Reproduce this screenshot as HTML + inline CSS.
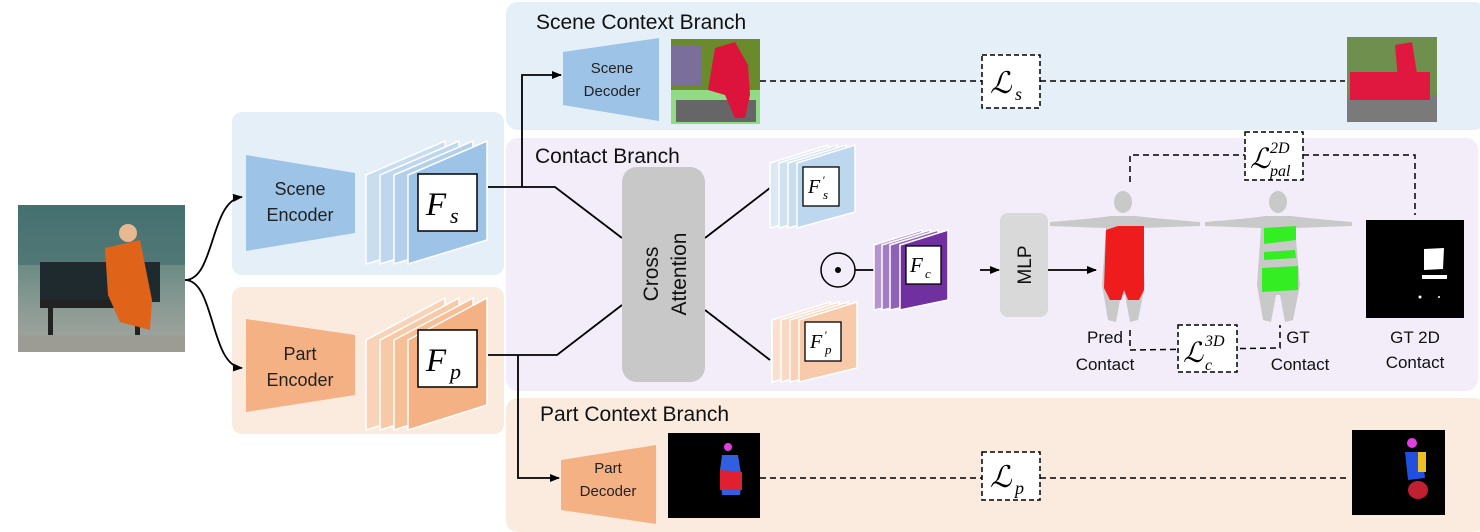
<!DOCTYPE html>
<html><head><meta charset="utf-8"><style>
body{margin:0;background:#fff;}
svg{display:block;}
text{font-family:"Liberation Sans",sans-serif;}
.m{font-family:"Liberation Serif",serif;font-style:italic;}
</style></head><body>
<svg width="1480" height="532" viewBox="0 0 1480 532" xmlns="http://www.w3.org/2000/svg">
<defs>
<marker id="ar" markerWidth="10" markerHeight="8" refX="9" refY="4" orient="auto" markerUnits="userSpaceOnUse"><path d="M0,0 L10,4 L0,8 z" fill="#000"/></marker>
<linearGradient id="ph" x1="0" y1="0" x2="0" y2="1"><stop offset="0" stop-color="#4f7a7a"/><stop offset="0.45" stop-color="#6f8e86"/><stop offset="0.7" stop-color="#8b9a94"/><stop offset="1" stop-color="#a7a7a0"/></linearGradient>
</defs>
<!-- panels -->
<rect x="506" y="2" width="980" height="128" rx="12" fill="#e4eff8"/>
<rect x="506" y="138" width="972" height="253" rx="12" fill="#f2edf9"/>
<rect x="506" y="398" width="980" height="134" rx="12" fill="#fbebdf"/>
<rect x="232" y="112" width="272" height="163" rx="10" fill="#e4eff8"/>
<rect x="232" y="287" width="272" height="147" rx="10" fill="#fbebdf"/>

<!-- photo -->
<rect x="18" y="205" width="167" height="147" fill="url(#ph)"/>
<rect x="18" y="205" width="167" height="60" fill="#3f6a6a" opacity="0.6"/>
<rect x="40" y="262" width="120" height="40" fill="#1e2a2e"/>
<rect x="40" y="300" width="100" height="8" fill="#222"/>
<rect x="48" y="305" width="5" height="40" fill="#222"/><rect x="135" y="305" width="5" height="40" fill="#222"/>
<path d="M105,248 L140,240 L152,300 L150,330 L120,322 L108,295 Z" fill="#e0631a"/>
<circle cx="128" cy="233" r="9" fill="#e8b890"/>
<rect x="18" y="335" width="167" height="17" fill="#9c9c94"/>

<!-- input arrows -->
<path d="M185,280 C215,280 210,200 242,197" fill="none" stroke="#000" stroke-width="1.8" marker-end="url(#ar)"/>
<path d="M185,280 C215,280 210,366 242,368" fill="none" stroke="#000" stroke-width="1.8" marker-end="url(#ar)"/>

<!-- scene encoder -->
<polygon points="246,155 355,173 355,233 246,251" fill="#9dc3e6"/>
<text x="300" y="195" font-size="18" text-anchor="middle" fill="#222">Scene</text>
<text x="300" y="221" font-size="18" text-anchor="middle" fill="#222">Encoder</text>
<g stroke="#fff" stroke-width="1.5">
<polygon points="366,175 445,141 445,240 366,264" fill="#c9ddf0"/>
<polygon points="380,175 459,141 459,240 380,264" fill="#bfd7ee"/>
<polygon points="394,175 473,141 473,240 394,264" fill="#b2d0eb"/>
<polygon points="408,175 487,141 487,240 408,264" fill="#9dc3e6"/>
</g>
<rect x="418" y="174" width="59" height="57" fill="#fff" stroke="#000" stroke-width="1.5"/>
<text class="m" x="426" y="215" font-size="33">F</text><text class="m" x="450" y="223" font-size="22">s</text>

<!-- part encoder -->
<polygon points="246,319 355,335 355,395 246,412" fill="#f4b183"/>
<text x="300" y="360" font-size="18" text-anchor="middle" fill="#222">Part</text>
<text x="300" y="386" font-size="18" text-anchor="middle" fill="#222">Encoder</text>
<g stroke="#fff" stroke-width="1.5">
<polygon points="366,340 445,298 445,405 366,430" fill="#f8d3b8"/>
<polygon points="380,340 459,298 459,405 380,430" fill="#f7c9a7"/>
<polygon points="394,340 473,298 473,405 394,430" fill="#f6bf97"/>
<polygon points="408,340 487,298 487,405 408,430" fill="#f4b183"/>
</g>
<rect x="418" y="330" width="59" height="57" fill="#fff" stroke="#000" stroke-width="1.5"/>
<text class="m" x="426" y="371" font-size="33">F</text><text class="m" x="450" y="379" font-size="22">p</text>

<!-- connectors -->
<g fill="none" stroke="#000" stroke-width="1.8">
<polyline points="488,187 555,187 622,238"/>
<polyline points="522,187 522,75 561,75" marker-end="url(#ar)"/>
<polyline points="488,355 557,355 622,305"/>
<polyline points="518,355 518,478 559,478" marker-end="url(#ar)"/>
<line x1="705" y1="238" x2="770" y2="188"/>
<line x1="705" y1="310" x2="770" y2="360"/>
<line x1="855" y1="270" x2="899" y2="270" marker-end="url(#ar)"/>
<line x1="980" y1="270" x2="999" y2="270" marker-end="url(#ar)"/>
<line x1="1048" y1="270" x2="1096" y2="270" marker-end="url(#ar)"/>
</g>

<!-- titles -->
<text x="536" y="29" font-size="21" fill="#111">Scene Context Branch</text>
<text x="535" y="163" font-size="21" fill="#111">Contact Branch</text>
<text x="540" y="421" font-size="21" fill="#111">Part Context Branch</text>

<!-- cross attention -->
<rect x="622" y="167" width="83" height="215" rx="15" fill="#c8c8c8"/>
<text transform="translate(658,274) rotate(-90)" font-size="21" text-anchor="middle" fill="#111">Cross</text>
<text transform="translate(686,274) rotate(-90)" font-size="21" text-anchor="middle" fill="#111">Attention</text>

<!-- F's stack -->
<g stroke="#fff" stroke-width="1.5">
<polygon points="770,163 828,145 828,212 770,228" fill="#dce9f5"/>
<polygon points="779,163 837,145 837,212 779,228" fill="#d0e2f2"/>
<polygon points="788,163 846,145 846,212 788,228" fill="#c9ddf0"/>
<polygon points="797,163 855,145 855,212 797,228" fill="#bdd7ee"/>
<polygon points="772,320 830,302 830,368 772,382" fill="#fbe0cf"/>
<polygon points="781,320 839,302 839,368 781,382" fill="#fad8c2"/>
<polygon points="790,320 848,302 848,368 790,382" fill="#f9d0b5"/>
<polygon points="799,320 857,302 857,368 799,382" fill="#f8caaa"/>
</g>
<rect x="803" y="167" width="36" height="39" fill="#fff" stroke="#000" stroke-width="1.3"/>
<text class="m" x="808" y="193" font-size="20">F</text><text class="m" x="822" y="184" font-size="12">′</text><text class="m" x="823" y="199" font-size="13">s</text>
<rect x="805" y="322" width="36" height="39" fill="#fff" stroke="#000" stroke-width="1.3"/>
<text class="m" x="810" y="348" font-size="20">F</text><text class="m" x="824" y="339" font-size="12">′</text><text class="m" x="825" y="354" font-size="13">p</text>

<!-- odot -->
<circle cx="838" cy="270" r="17" fill="none" stroke="#000" stroke-width="1.5"/>
<circle cx="838" cy="270" r="3" fill="#000"/>

<!-- Fc stack -->
<g stroke="#fff" stroke-width="1.5">
<polygon points="874,245 922,230 922,300 874,310" fill="#b595cf"/>
<polygon points="882,245 930,230 930,300 882,310" fill="#a27dc4"/>
<polygon points="890,245 938,230 938,300 890,310" fill="#8e63b6"/>
<polygon points="900,245 948,230 948,300 900,310" fill="#7030a0"/>
</g>
<rect x="906" y="246" width="35" height="38" fill="#fff" stroke="#000" stroke-width="1.3"/>
<text class="m" x="910" y="272" font-size="21">F</text><text class="m" x="925" y="278" font-size="13">c</text>

<!-- MLP -->
<rect x="1000" y="213" width="48" height="104" rx="8" fill="#d9d9d9"/>
<text transform="translate(1031,265) rotate(-90)" font-size="19" text-anchor="middle" fill="#111">MLP</text>

<!-- bodies -->
<g fill="#c9c9c9">
<ellipse cx="1123" cy="202" rx="9" ry="11"/>
<path d="M1050,222 Q1100,218 1110,216 L1136,216 Q1150,218 1200,222 L1200,226 L1140,228 L1145,285 L1138,320 L1130,322 L1125,295 L1121,295 L1116,322 L1108,320 L1102,285 L1106,228 L1050,226 Z"/>
<ellipse cx="1278" cy="202" rx="9" ry="11"/>
<path d="M1205,222 Q1255,218 1265,216 L1291,216 Q1305,218 1352,222 L1352,226 L1295,228 L1300,285 L1293,320 L1285,322 L1280,295 L1276,295 L1271,322 L1263,320 L1257,285 L1261,228 L1205,226 Z"/>
</g>
<path d="M1118,226 L1144,226 L1144,290 L1139,300 L1128,300 L1124,290 L1121,300 L1110,300 L1104,288 L1106,230 Z" fill="#ee1c1c"/>
<path d="M1264,228 L1296,226 L1296,240 L1264,244 Z" fill="#33ee22"/>
<path d="M1264,252 L1295,250 L1296,258 L1264,260 Z" fill="#33ee22"/>
<path d="M1262,268 L1298,266 L1298,290 L1262,292 Z" fill="#33ee22"/>
<rect x="1366" y="220" width="98" height="98" fill="#000"/>
<polygon points="1424,249 1444,248 1443,269 1424,270" fill="#fff"/>
<rect x="1422" y="275" width="25" height="4" fill="#fff"/>
<circle cx="1420" cy="297" r="1.5" fill="#fff"/><circle cx="1439" cy="297" r="1" fill="#fff"/>
<text x="1105" y="343" font-size="17" text-anchor="middle" fill="#111">Pred</text>
<text x="1105" y="370" font-size="17" text-anchor="middle" fill="#111">Contact</text>
<text x="1298" y="343" font-size="17" text-anchor="middle" fill="#111">GT</text>
<text x="1300" y="370" font-size="17" text-anchor="middle" fill="#111">Contact</text>
<text x="1415" y="343" font-size="17" text-anchor="middle" fill="#111">GT 2D</text>
<text x="1415" y="368" font-size="17" text-anchor="middle" fill="#111">Contact</text>

<!-- dashed losses -->
<g fill="none" stroke="#000" stroke-width="1.5" stroke-dasharray="6,4">
<polyline points="1130,182 1130,155 1415,155 1415,215"/>
<polyline points="1130,330 1130,350 1280,348 1280,325"/>
<line x1="760" y1="81" x2="1345" y2="81"/>
<line x1="760" y1="478" x2="1350" y2="478"/>
</g>
<g fill="#fff" stroke="#000" stroke-width="1.5" stroke-dasharray="5,3">
<rect x="1245" y="132" width="58" height="48"/>
<rect x="1178" y="325" width="59" height="47"/>
<rect x="982" y="55" width="58" height="53"/>
<rect x="982" y="452" width="58" height="48"/>
</g>
<text class="m" x="1250" y="168" font-size="28">ℒ</text><text class="m" x="1270" y="153" font-size="16">2D</text><text class="m" x="1270" y="176" font-size="16">pal</text>
<text class="m" x="1183" y="362" font-size="28">ℒ</text><text class="m" x="1205" y="346" font-size="16">3D</text><text class="m" x="1205" y="370" font-size="16">c</text>
<text class="m" x="990" y="93" font-size="30">ℒ</text><text class="m" x="1015" y="100" font-size="18">s</text>
<text class="m" x="990" y="487" font-size="30">ℒ</text><text class="m" x="1015" y="494" font-size="18">p</text>

<!-- scene decoder -->
<polygon points="563,52 659,38 659,121 563,105" fill="#9dc3e6"/>
<text x="612" y="73" font-size="15" text-anchor="middle" fill="#222">Scene</text>
<text x="612" y="96" font-size="15" text-anchor="middle" fill="#222">Decoder</text>
<rect x="671" y="39" width="89" height="85" fill="#6b8a2c"/>
<rect x="671" y="45" width="30" height="40" fill="#7a6f9a"/>
<rect x="671" y="90" width="89" height="34" fill="#9aef9a" opacity="0.8"/>
<rect x="676" y="100" width="80" height="22" fill="#666"/>
<path d="M715,48 L735,42 L748,65 L750,95 L745,118 L735,118 L725,95 L708,90 Z" fill="#dc143c"/>
<rect x="1347" y="37" width="90" height="85" fill="#6f8f4f"/>
<rect x="1347" y="95" width="90" height="27" fill="#7a7a7a"/>
<rect x="1350" y="72" width="80" height="28" fill="#e01840"/>
<path d="M1395,45 L1412,42 L1418,80 L1398,80 Z" fill="#e01840"/>

<!-- part decoder -->
<polygon points="561,460 656,445 656,524 561,510" fill="#f4b183"/>
<text x="608" y="473" font-size="15" text-anchor="middle" fill="#222">Part</text>
<text x="608" y="496" font-size="15" text-anchor="middle" fill="#222">Decoder</text>
<rect x="668" y="433" width="92" height="85" fill="#000"/>
<circle cx="728" cy="447" r="4" fill="#e040e0"/>
<path d="M722,455 L738,455 L742,480 L740,495 L722,495 L720,470 Z" fill="#3060e0"/>
<path d="M720,470 L742,472 L742,490 L720,490 Z" fill="#e02030"/>
<rect x="1352" y="430" width="93" height="85" fill="#000"/>
<circle cx="1412" cy="443" r="5" fill="#e040e0"/>
<path d="M1405,452 L1422,452 L1425,478 L1408,480 Z" fill="#2050e0"/>
<ellipse cx="1418" cy="490" rx="10" ry="9" fill="#c02030"/>
<rect x="1418" y="452" width="8" height="20" fill="#f0c020"/>
</svg>
</body></html>
